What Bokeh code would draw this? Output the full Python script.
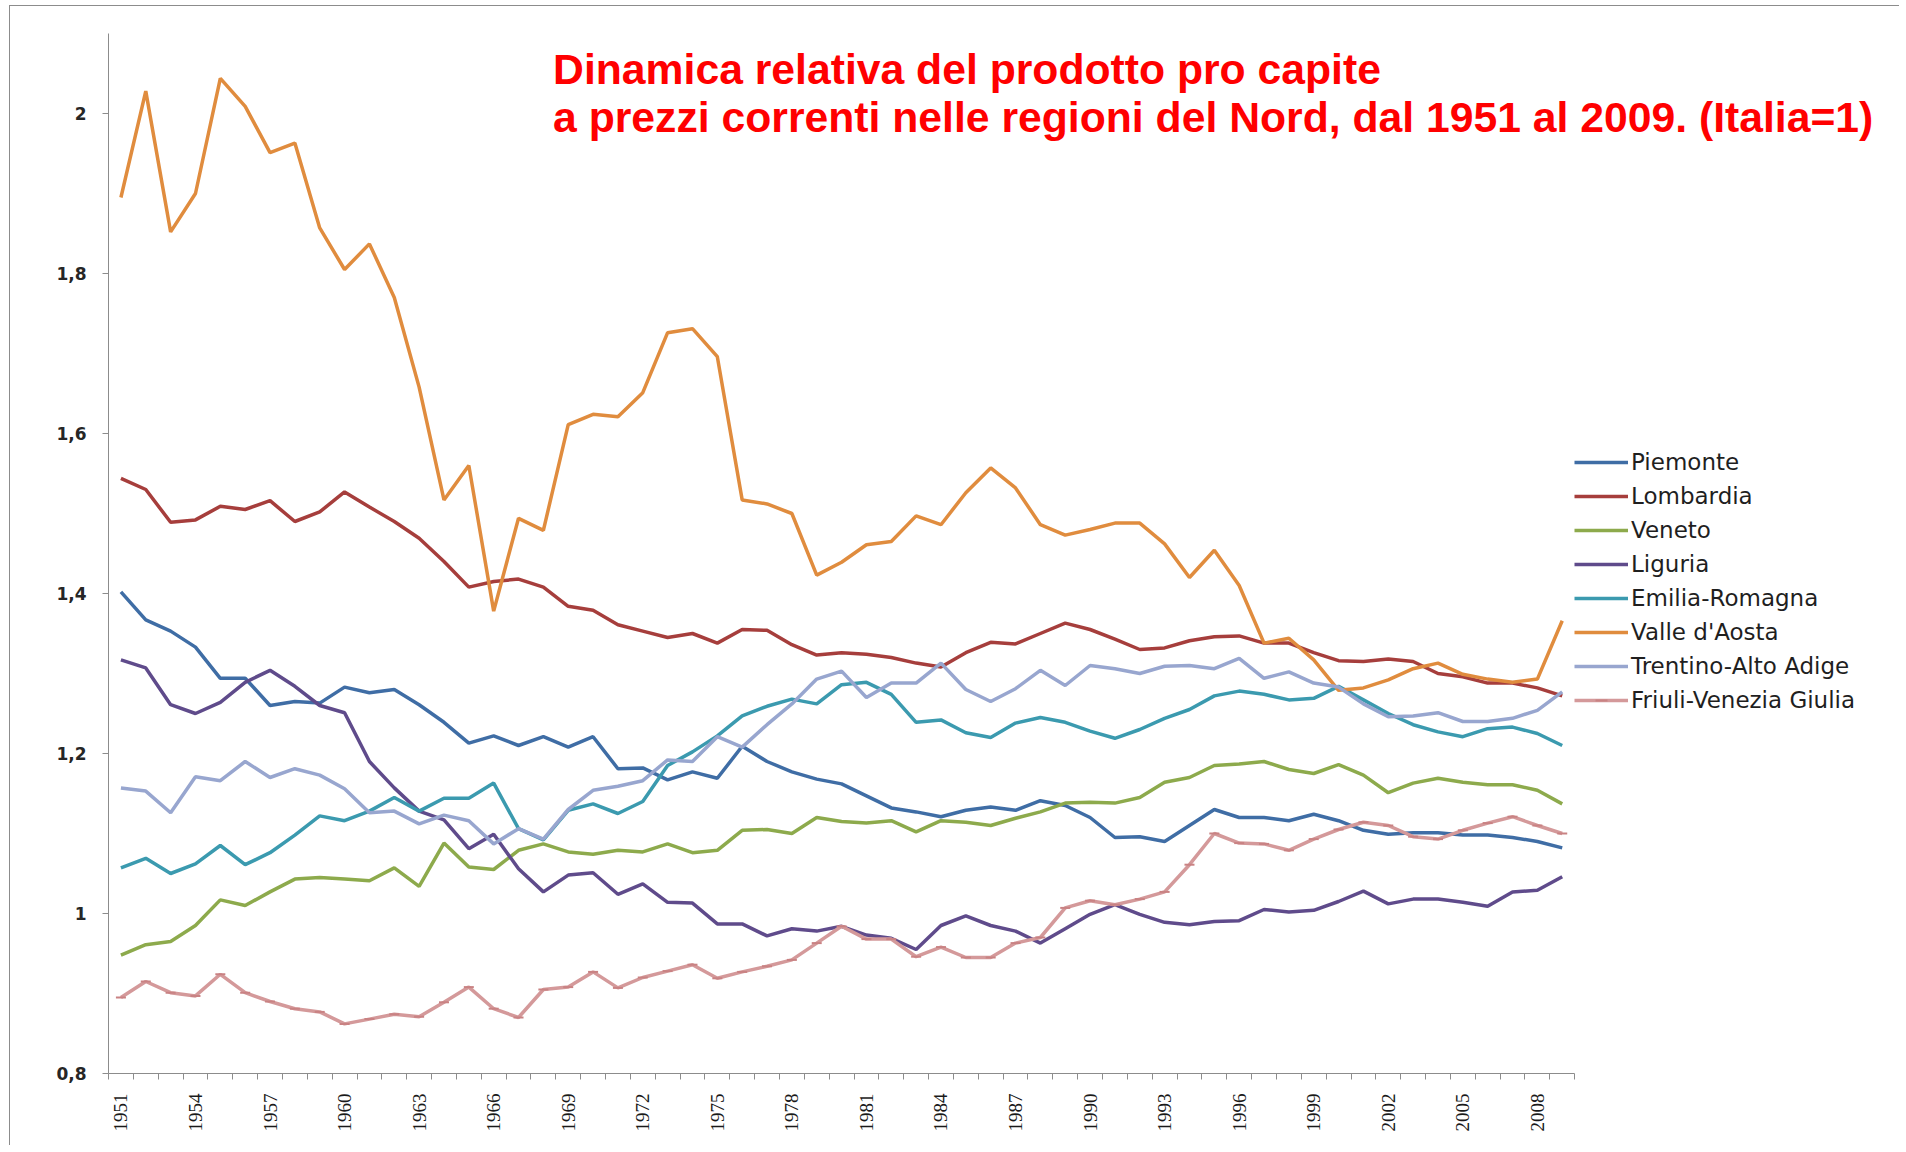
from math import pi
from bokeh.plotting import figure
from bokeh.models import (Range1d, FixedTicker, Legend, LegendItem, Label,
                          CustomJSTickFormatter)
from bokeh.embed import file_html
from bokeh.resources import INLINE

years = list(range(1951, 2010))
label_years = list(range(1951, 2010, 3))
y_ticks = [0.8, 1.0, 1.2, 1.4, 1.6, 1.8, 2.0]

title_lines = ["Dinamica relativa del prodotto pro capite",
               "a prezzi correnti nelle regioni del Nord, dal 1951 al 2009. (Italia=1)"]

piemonte = [1.402, 1.367, 1.353, 1.333, 1.294, 1.294, 1.260, 1.265, 1.263, 1.283,
            1.276, 1.280, 1.261, 1.239, 1.213, 1.222, 1.210, 1.221, 1.208, 1.221,
            1.181, 1.182, 1.167, 1.177, 1.169, 1.209, 1.190, 1.177, 1.168, 1.162,
            1.147, 1.132, 1.127, 1.121, 1.129, 1.133, 1.129, 1.141, 1.135, 1.120,
            1.095, 1.096, 1.090, 1.110, 1.130, 1.120, 1.120, 1.116, 1.124, 1.116,
            1.104, 1.099, 1.101, 1.101, 1.098, 1.098, 1.095, 1.090, 1.082]
lombardia = [1.544, 1.530, 1.489, 1.492, 1.509, 1.505, 1.516, 1.490, 1.502, 1.527,
             1.508, 1.490, 1.469, 1.440, 1.408, 1.415, 1.418, 1.408, 1.384, 1.379,
             1.361, 1.353, 1.345, 1.350, 1.338, 1.355, 1.354, 1.336, 1.323, 1.326,
             1.324, 1.320, 1.313, 1.308, 1.326, 1.339, 1.337, 1.350, 1.363, 1.355,
             1.343, 1.330, 1.332, 1.341, 1.346, 1.347, 1.338, 1.338, 1.326, 1.316,
             1.315, 1.318, 1.315, 1.300, 1.296, 1.288, 1.288, 1.282, 1.272]
veneto = [0.948, 0.961, 0.965, 0.985, 1.017, 1.010, 1.027, 1.043, 1.045, 1.043,
          1.041, 1.057, 1.034, 1.088, 1.058, 1.055, 1.079, 1.087, 1.077, 1.074,
          1.079, 1.077, 1.087, 1.076, 1.079, 1.104, 1.105, 1.100, 1.120, 1.115,
          1.113, 1.116, 1.102, 1.116, 1.114, 1.110, 1.119, 1.127, 1.138, 1.139,
          1.138, 1.145, 1.164, 1.170, 1.185, 1.187, 1.190, 1.180, 1.175, 1.186,
          1.173, 1.151, 1.163, 1.169, 1.164, 1.161, 1.161, 1.154, 1.137]
liguria = [1.317, 1.307, 1.261, 1.250, 1.264, 1.289, 1.304, 1.284, 1.260, 1.251,
           1.190, 1.157, 1.128, 1.117, 1.081, 1.099, 1.056, 1.027, 1.048, 1.051,
           1.024, 1.037, 1.014, 1.013, 0.987, 0.987, 0.972, 0.981, 0.978, 0.984,
           0.973, 0.969, 0.955, 0.985, 0.997, 0.985, 0.978, 0.963, 0.981, 0.999,
           1.011, 0.999, 0.989, 0.986, 0.990, 0.991, 1.005, 1.002, 1.004, 1.015,
           1.028, 1.012, 1.018, 1.018, 1.014, 1.009, 1.027, 1.029, 1.046]
emilia = [1.057, 1.069, 1.050, 1.062, 1.085, 1.061, 1.076, 1.098, 1.122, 1.116,
          1.128, 1.145, 1.128, 1.144, 1.144, 1.163, 1.106, 1.092, 1.129, 1.137,
          1.125, 1.140, 1.185, 1.202, 1.222, 1.247, 1.259, 1.268, 1.262, 1.286,
          1.289, 1.274, 1.239, 1.242, 1.226, 1.220, 1.238, 1.245, 1.239, 1.228,
          1.219, 1.230, 1.244, 1.255, 1.272, 1.278, 1.274, 1.267, 1.269, 1.284,
          1.267, 1.250, 1.236, 1.227, 1.221, 1.231, 1.233, 1.225, 1.210]
valle = [1.895, 2.028, 1.852, 1.900, 2.044, 2.009, 1.951, 1.963, 1.857, 1.805,
         1.837, 1.770, 1.658, 1.517, 1.560, 1.378, 1.494, 1.479, 1.611, 1.624,
         1.621, 1.651, 1.726, 1.731, 1.696, 1.517, 1.512, 1.500, 1.423, 1.439,
         1.461, 1.465, 1.497, 1.486, 1.526, 1.557, 1.532, 1.486, 1.473, 1.480,
         1.488, 1.488, 1.462, 1.420, 1.454, 1.410, 1.338, 1.344, 1.317, 1.279,
         1.282, 1.292, 1.306, 1.313, 1.299, 1.293, 1.289, 1.293, 1.366]
trentino = [1.157, 1.153, 1.126, 1.171, 1.166, 1.190, 1.170, 1.181, 1.173, 1.156,
            1.126, 1.128, 1.112, 1.123, 1.116, 1.087, 1.106, 1.093, 1.130, 1.154,
            1.159, 1.166, 1.192, 1.190, 1.221, 1.208, 1.236, 1.262, 1.293, 1.303,
            1.270, 1.288, 1.288, 1.313, 1.280, 1.265, 1.281, 1.304, 1.285, 1.310,
            1.306, 1.300, 1.309, 1.310, 1.306, 1.319, 1.294, 1.302, 1.288, 1.283,
            1.262, 1.246, 1.247, 1.251, 1.240, 1.240, 1.244, 1.254, 1.277]
friuli = [0.895, 0.915, 0.901, 0.897, 0.924, 0.901, 0.890, 0.881, 0.877, 0.862,
          0.868, 0.874, 0.871, 0.889, 0.908, 0.881, 0.870, 0.905, 0.908, 0.927,
          0.907, 0.920, 0.928, 0.936, 0.919, 0.927, 0.934, 0.942, 0.963, 0.984,
          0.968, 0.968, 0.946, 0.958, 0.945, 0.945, 0.963, 0.970, 1.007, 1.016,
          1.011, 1.018, 1.027, 1.061, 1.100, 1.088, 1.087, 1.079, 1.093, 1.105,
          1.114, 1.110, 1.096, 1.093, 1.104, 1.113, 1.121, 1.110, 1.100]

series = [
    ("Piemonte", piemonte, "#3F6DA5"),
    ("Lombardia", lombardia, "#A63E3C"),
    ("Veneto", veneto, "#8DAA4C"),
    ("Liguria", liguria, "#5F4B8B"),
    ("Emilia-Romagna", emilia, "#3B9AAF"),
    ("Valle d'Aosta", valle, "#E08C3E"),
    ("Trentino-Alto Adige", trentino, "#98A6CF"),
    ("Friuli-Venezia Giulia", friuli, "#D4999A"),
]

AXIS_COLOR = "#8c8c8c"

# frame spans to the right edge so the title and legend are not clipped;
# the x axis itself is bounded to the data years
p = figure(width=1890, height=1140, output_backend="svg", toolbar_location=None,
           x_range=Range1d(1950.5, 1950.5 + 1792 / 24.85), y_range=Range1d(0.8, 2.1),
           min_border_left=98, min_border_right=0,
           min_border_top=27, min_border_bottom=73,
           background_fill_color="white", border_fill_color="white")
p.styles = {"margin-left": "9px", "margin-top": "5px",
            "border-top": "1px solid #8c8c8c", "border-left": "1px solid #8c8c8c"}
p.outline_line_color = None
p.xgrid.visible = False
p.ygrid.visible = False

p.xaxis.bounds = (years[0] - 0.5, years[-1] + 0.5)
p.xaxis.ticker = FixedTicker(ticks=label_years,
                             minor_ticks=[y - 0.5 for y in years] + [years[-1] + 0.5])
p.xaxis.axis_line_color = AXIS_COLOR
p.xaxis.major_tick_line_color = None
p.xaxis.major_tick_out = 0
p.xaxis.major_tick_in = 0
p.xaxis.minor_tick_line_color = AXIS_COLOR
p.xaxis.minor_tick_out = 6
p.xaxis.minor_tick_in = 0
p.xaxis.major_label_orientation = pi / 2
p.xaxis.major_label_standoff = 14
p.xaxis.major_label_text_font = "Liberation Sans Narrow"
p.xaxis.major_label_text_font_size = "19px"
p.xaxis.major_label_text_color = "#1a1a1a"

p.yaxis.ticker = FixedTicker(ticks=y_ticks, minor_ticks=[])
p.yaxis.formatter = CustomJSTickFormatter(
    code="return tick.toFixed(1).replace('.0', '').replace('.', ',');")
p.yaxis.axis_line_color = AXIS_COLOR
p.yaxis.major_tick_line_color = AXIS_COLOR
p.yaxis.major_tick_out = 6
p.yaxis.major_tick_in = 0
p.yaxis.minor_tick_line_color = None
p.yaxis.major_label_standoff = 16
p.yaxis.major_label_text_font = "DejaVu Sans"
p.yaxis.major_label_text_font_style = "bold"
p.yaxis.major_label_text_font_size = "17px"
p.yaxis.major_label_text_color = "#262626"

items = []
for name, vals, color in series:
    r = p.line(years, vals, line_width=3.5, line_color=color)
    rs = [r]
    if name.startswith("Friuli"):
        m = p.scatter(years, vals, marker="dash", size=10, line_color="#C98283",
                      line_width=2)
        rs.append(m)
    items.append(LegendItem(label=name, renderers=rs))

legend = Legend(items=items, location=(1466, 358), padding=0, margin=0,
                border_line_color=None, background_fill_alpha=0,
                glyph_width=54, glyph_height=30, label_height=30, spacing=4,
                label_standoff=3, label_text_font="DejaVu Sans",
                label_text_font_size="23px", label_text_color="#1f1f1f")
p.add_layout(legend)

for txt, yv in zip(title_lines, [2.0555, 1.9956]):
    p.add_layout(Label(x=1968.39, y=yv, text=txt, text_font="Liberation Sans",
                       text_font_style="bold", text_font_size="42.7px",
                       text_color="#FF0000", text_align="left",
                       text_baseline="alphabetic"))

open("out.html", "w").write(file_html(p, INLINE))
